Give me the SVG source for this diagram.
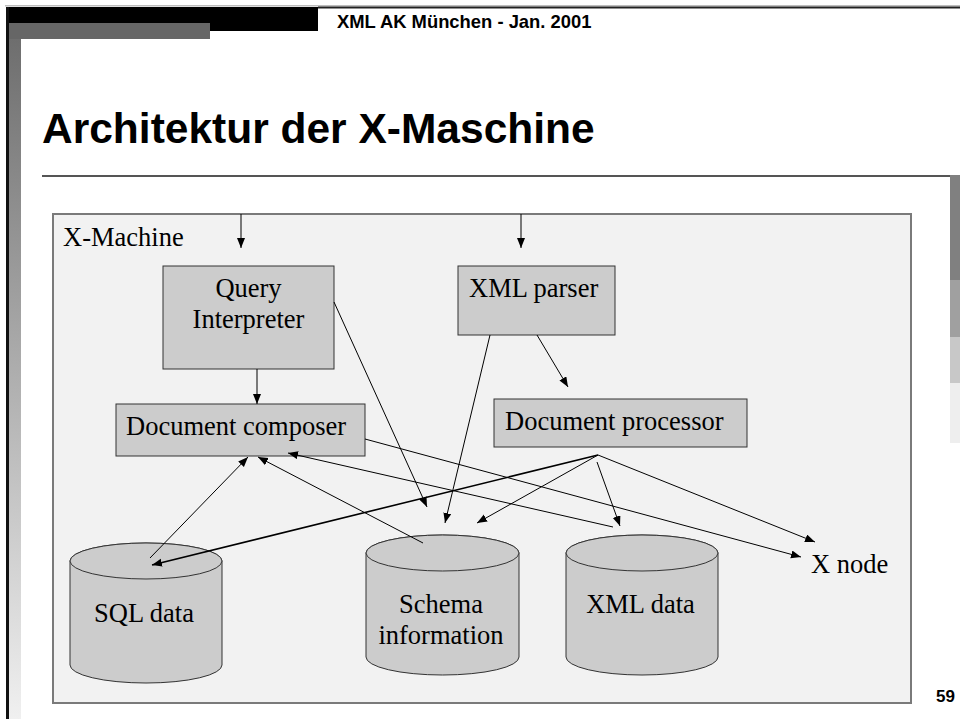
<svg xmlns="http://www.w3.org/2000/svg" width="960" height="719" viewBox="0 0 960 719">
<defs>
<linearGradient id="strip" x1="0" y1="0" x2="0" y2="1">
<stop offset="0" stop-color="#6e6e6e"/>
<stop offset="1" stop-color="#f0f0f0"/>
</linearGradient>
<marker id="ah" markerUnits="userSpaceOnUse" markerWidth="11" markerHeight="9" refX="10" refY="4" orient="auto">
<path d="M0,0 L10,4 L0,8 Z" fill="#000"/>
</marker>
<style>
.box{fill:#cccccc;stroke:#333333;stroke-width:1}
.t{font-family:"Liberation Serif","Times New Roman",serif;font-size:26.5px;fill:#000}
.c{text-anchor:middle}
.con line{stroke:#000;stroke-width:1;marker-end:url(#ah)}
</style>
</defs>
<rect width="960" height="719" fill="#ffffff"/>
<!-- slide frame -->
<g id="frame">
<rect x="5" y="5" width="955" height="1.5" fill="#bdbdbd"/>
<rect x="318" y="6.5" width="642" height="2" fill="#222"/>
<rect x="6" y="7" width="312" height="24" fill="#000"/>
<rect x="9" y="39" width="12" height="680" fill="url(#strip)"/>
<rect x="9" y="23" width="201" height="16" fill="#666666"/>
<rect x="6" y="7" width="3" height="712" fill="#111"/>
<rect x="42" y="175" width="908" height="2" fill="#555"/>
<rect x="950" y="175" width="10" height="105" fill="#808080"/>
<rect x="950" y="280" width="10" height="57" fill="#a0a0a0"/>
<rect x="950" y="337" width="10" height="46" fill="#c8c8c8"/>
<rect x="950" y="383" width="10" height="60" fill="#eeeeee"/>
<text x="337" y="28" font-family="Liberation Sans, Arial, sans-serif" font-size="18.4" font-weight="bold">XML AK München - Jan. 2001</text>
<text x="42" y="143" font-family="Liberation Sans, Arial, sans-serif" font-size="42.5" font-weight="bold">Architektur der X-Maschine</text>
<text x="936" y="702" font-family="Liberation Sans, Arial, sans-serif" font-size="17" font-weight="bold">59</text>
</g>
<g id="x-machine">
<rect x="53" y="214" width="858" height="489" fill="#f2f2f2" stroke="#7a7a7a" stroke-width="2"/>
<text class="t" x="63" y="246">X-Machine</text>
</g>
<g id="query-interpreter">
<rect class="box" x="163" y="266" width="171" height="103"/>
<text class="t c" x="248.5" y="297">Query</text>
<text class="t c" x="248.5" y="328">Interpreter</text>
</g>
<g id="xml-parser">
<rect class="box" x="458" y="266" width="157" height="69"/>
<text class="t" x="469" y="297">XML parser</text>
</g>
<g id="document-composer">
<rect class="box" x="116" y="404" width="249" height="52"/>
<text class="t" x="126" y="435">Document composer</text>
</g>
<g id="document-processor">
<rect class="box" x="494" y="399" width="253" height="48"/>
<text class="t" x="505" y="430">Document processor</text>
</g>
<g id="sql-data">
<path class="box" d="M70,561 L70,665 A76,18 0 0 0 222,665 L222,561 A76,18 0 0 0 70,561 Z"/>
<ellipse class="box" cx="146" cy="561" rx="76" ry="18"/>
<text class="t c" x="144" y="622">SQL data</text>
</g>
<g id="schema-information">
<path class="box" d="M366,553 L366,657 A76.5,18 0 0 0 519,657 L519,553 A76.5,18 0 0 0 366,553 Z"/>
<ellipse class="box" cx="442.5" cy="553" rx="76.5" ry="18"/>
<text class="t c" x="441" y="613">Schema</text>
<text class="t c" x="441" y="644">information</text>
</g>
<g id="xml-data">
<path class="box" d="M566,553 L566,657 A76,18 0 0 0 718,657 L718,553 A76,18 0 0 0 566,553 Z"/>
<ellipse class="box" cx="642" cy="553" rx="76" ry="18"/>
<text class="t c" x="640.5" y="613">XML data</text>
</g>
<g id="x-node">
<text class="t" x="811" y="573">X node</text>
</g>
<g id="connectors" class="con">
<line x1="241" y1="214" x2="241" y2="248"/>
<line x1="521" y1="214" x2="521" y2="248"/>
<line x1="257" y1="369" x2="257" y2="404"/>
<line x1="537" y1="335" x2="568" y2="387"/>
<line x1="334" y1="302" x2="427" y2="507"/>
<line x1="490" y1="335" x2="445" y2="523"/>
<line x1="365" y1="439" x2="801" y2="557"/>
<line x1="598" y1="455" x2="815" y2="542"/>
<line x1="597" y1="462" x2="620" y2="526"/>
<line x1="598" y1="455" x2="477" y2="523"/>
<line x1="598" y1="455" x2="152" y2="565" style="stroke-width:1.6"/>
<line x1="150" y1="558" x2="248" y2="457"/>
<line x1="423" y1="543" x2="258" y2="457"/>
<line x1="613" y1="527" x2="288" y2="453"/>
</g>
</svg>
